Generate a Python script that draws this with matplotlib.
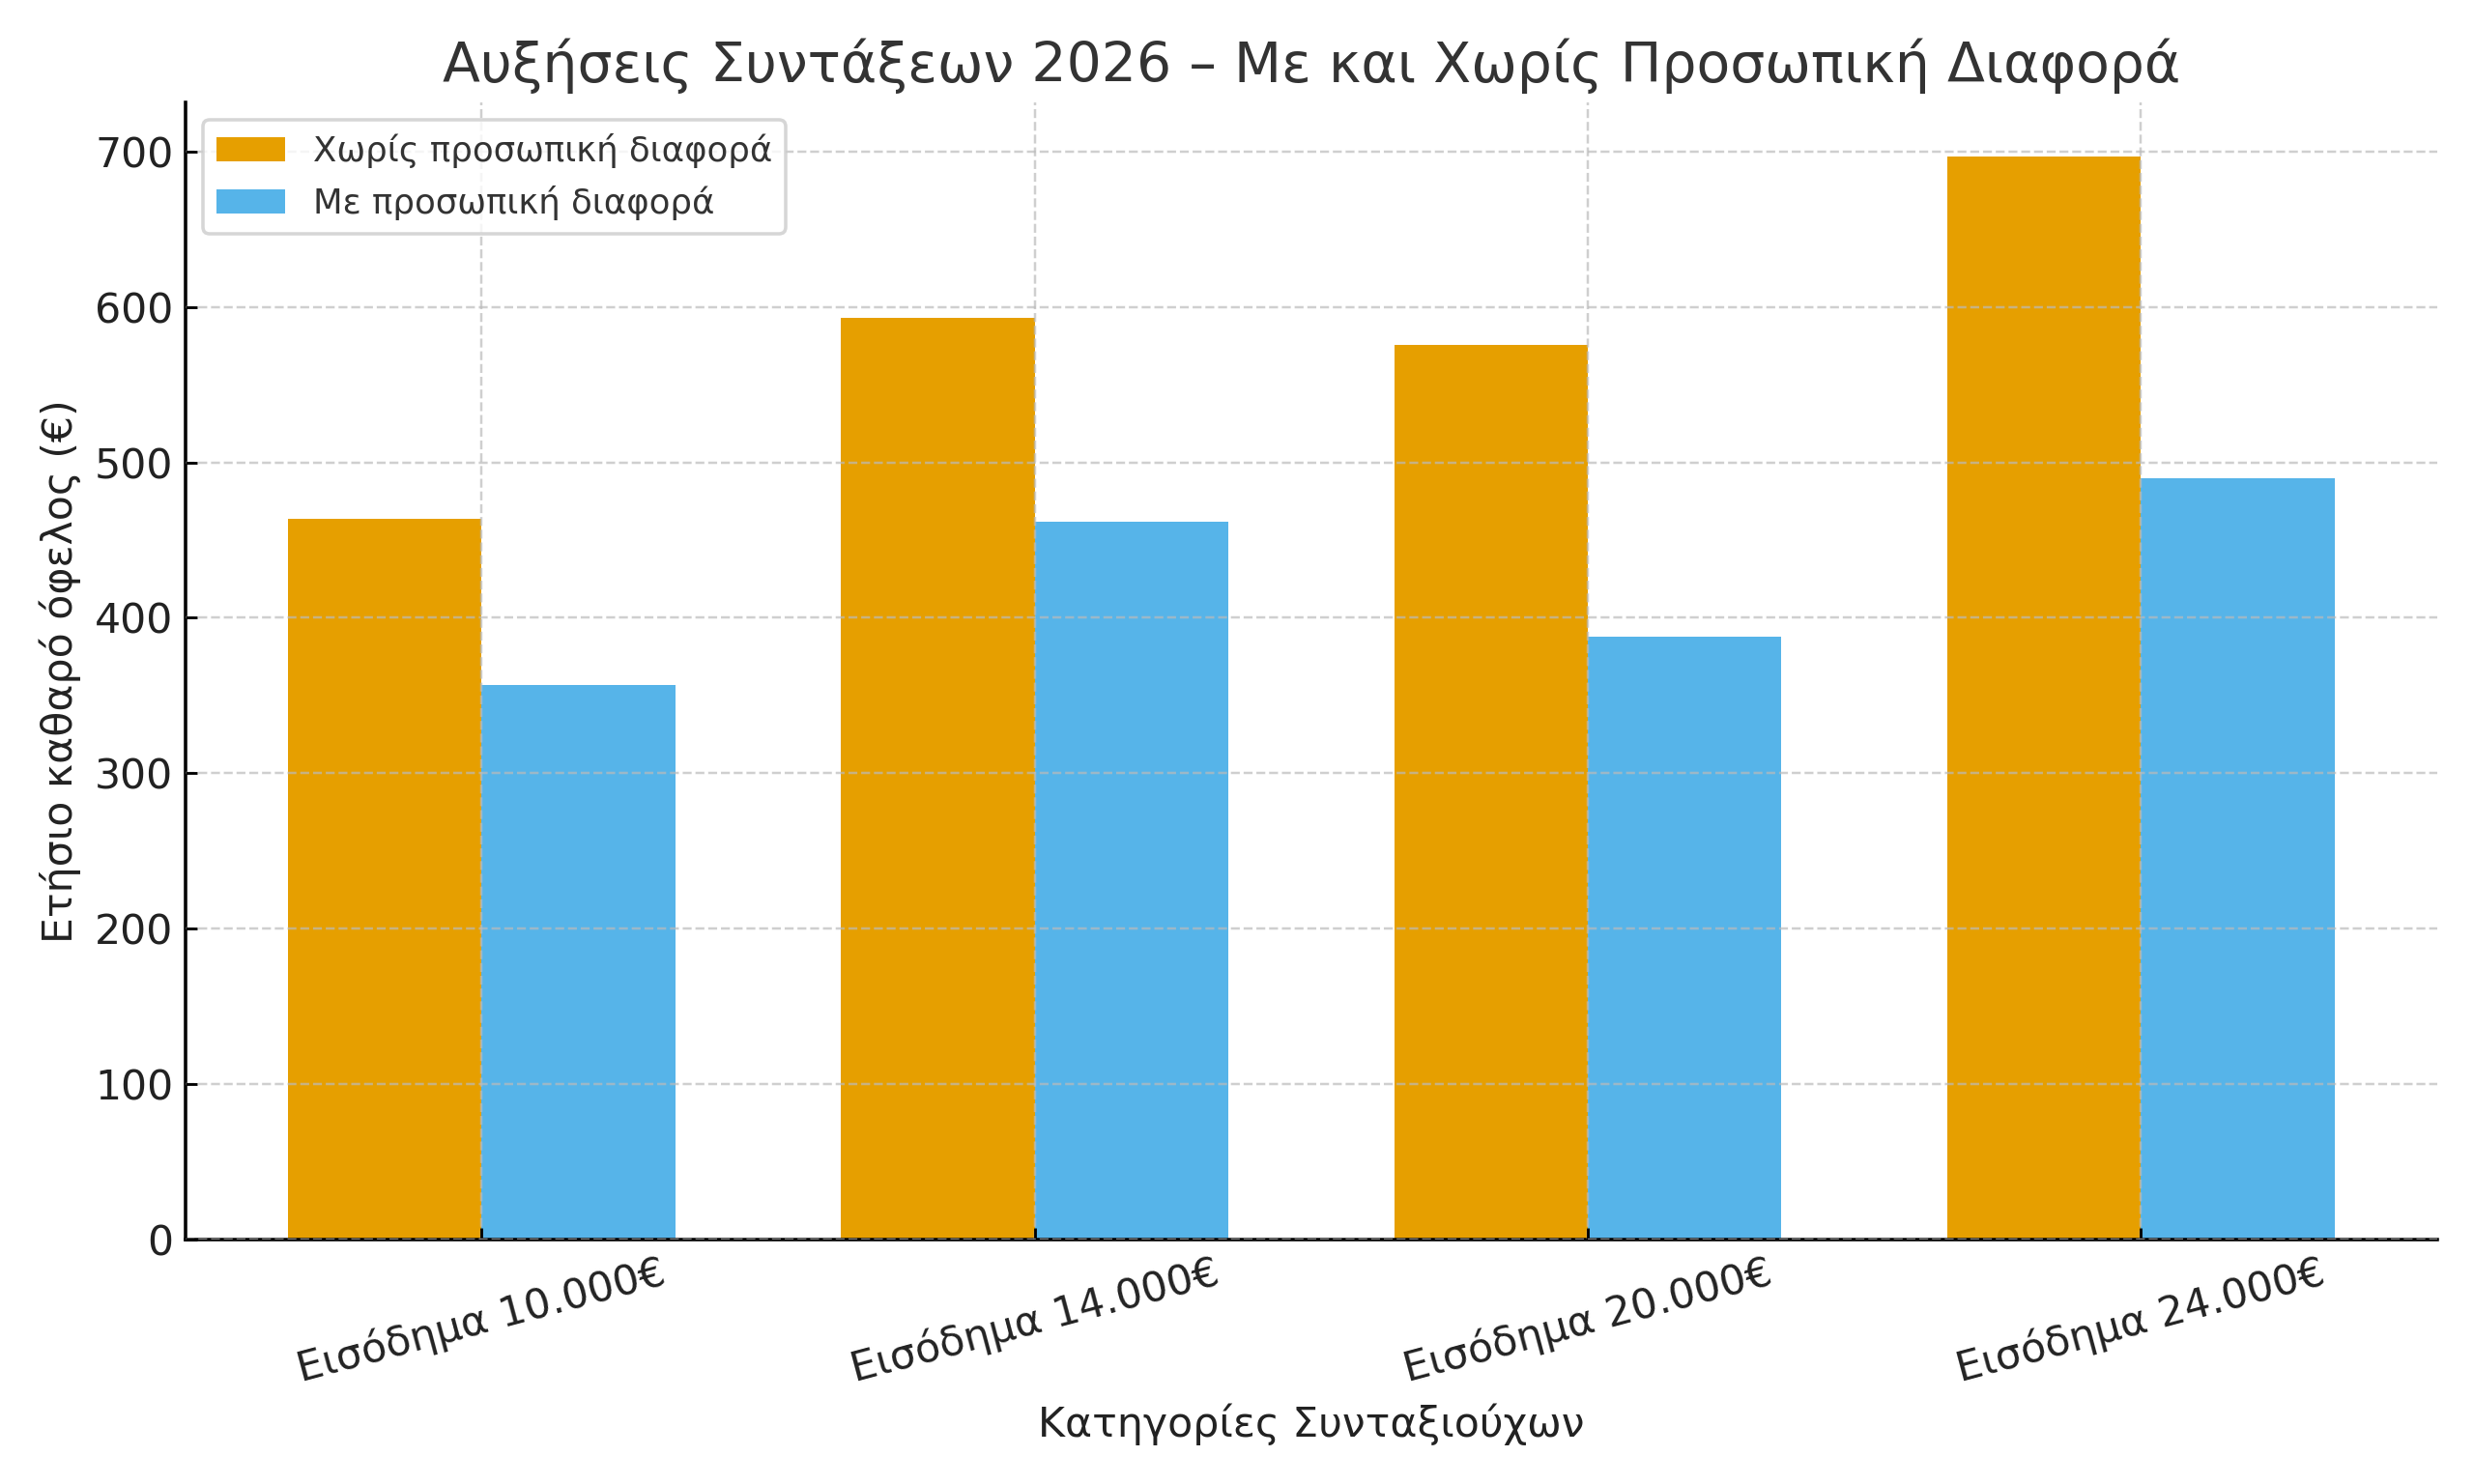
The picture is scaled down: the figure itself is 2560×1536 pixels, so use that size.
import numpy as np
import matplotlib
matplotlib.use("Agg")
import matplotlib.pyplot as plt

categories = ["Εισόδημα 10.000€", "Εισόδημα 14.000€", "Εισόδημα 20.000€", "Εισόδημα 24.000€"]
without_pd = [464, 593, 576, 697]
with_pd = [357, 462, 388, 490]
series_labels = ["Χωρίς προσωπική διαφορά", "Με προσωπική διαφορά"]

plt.rcParams['font.family'] = ['DejaVu Sans']

fig, ax = plt.subplots(figsize=(10, 6), dpi=256)
x = np.arange(len(categories))
w = 0.35
ax.bar(x - w/2, without_pd, w, color="#E69F00", label=series_labels[0], zorder=1)
ax.bar(x + w/2, with_pd, w, color="#56B4E9", label=series_labels[1], zorder=1)

ax.set_xticks(x)
ax.set_xticklabels(categories, rotation=15, fontsize=12, color="#222222")
ax.tick_params(axis='both', direction='in')
ax.tick_params(axis='y', labelsize=12, labelcolor="#222222")
ax.set_title("Αυξήσεις Συντάξεων 2026 – Με και Χωρίς Προσωπική Διαφορά", fontsize=16, color="#333333")
ax.set_xlabel("Κατηγορίες Συνταξιούχων", fontsize=12, color="#222222")
ax.set_ylabel("Ετήσιο καθαρό όφελος (€)", fontsize=12, color="#222222")

ax.set_axisbelow(False)
ax.grid(True, linestyle="--", color="#bbbbbb", alpha=0.7, linewidth=0.7, zorder=2)
for s in ["top", "right"]:
    ax.spines[s].set_visible(False)
for s in ["left", "bottom"]:
    ax.spines[s].set_linewidth(1.0)

leg = ax.legend(loc="upper left", fontsize=10)
for t in leg.get_texts():
    t.set_color("#333333")

fig.subplots_adjust(left=0.075, right=0.985, top=0.931, bottom=0.165)
fig.savefig("out.png", dpi=256)
